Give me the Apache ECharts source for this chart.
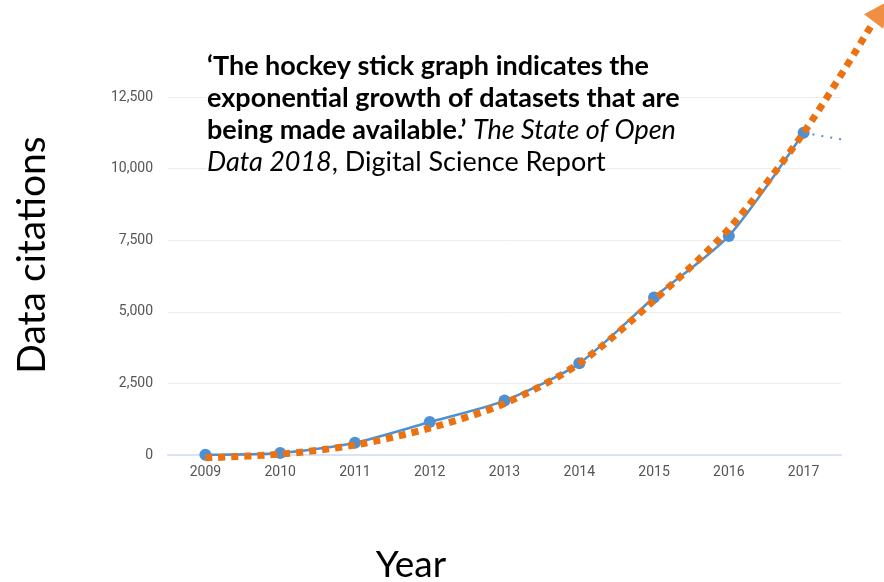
<!DOCTYPE html>
<html>
<head>
<meta charset="utf-8">
<script src="https://cdn.jsdelivr.net/npm/echarts@6/dist/echarts.min.js"></script>
<style>
html,body{margin:0;padding:0;background:#fff;}
#chart{width:884px;height:582px;}
</style>
</head>
<body>
<div id="chart"></div>
<script>
// ---- data ----
const years = ['2009', '2010', '2011', '2012', '2013', '2014', '2015', '2016', '2017'];
const citations = [10, 70, 430, 1150, 1900, 3200, 5500, 7650, 11250];
const extensionX = [2017, 2017.55];
const extensionY = [11250, 11000];
const trendX = [2009, 2010, 2011, 2012, 2013, 2014, 2015, 2016, 2017, 2017.93];
const trendY = [-100, 30, 350, 940, 1800, 3200, 5400, 7900, 11250, 15100];
const arrowTip = [2018.04, 15500];
const yTicks = [0, 2500, 5000, 7500, 10000, 12500];
const quoteLines = [
  [{t: '‘The hockey stick graph indicates the', s: 'b'}],
  [{t: 'exponential growth of datasets that are', s: 'b'}],
  [{t: 'being made available.’ ', s: 'b'}, {t: 'The State of Open', s: 'i'}],
  [{t: 'Data 2018', s: 'i'}, {t: ', Digital Science Report', s: 'n'}]
];
const yTitle = 'Data citations';
const xTitle = 'Year';

// ---- layout ----
const W = 884, H = 582;
const gLeft = 168, gRight = 43, gTop = 97, gBottom = 127;
const plotW = W - gLeft - gRight, plotH = H - gTop - gBottom;
const pxPerYear = plotW / years.length;
const valPerPx = (yTicks[yTicks.length - 1] - yTicks[0]) / plotH;
// overlay grid spanning more of the canvas, same scale as main grid
const oLeft = gLeft, oRight = 0, oTop = 0, oBottom = 110;
const oXMin = 2008.5, oXMax = oXMin + (W - oLeft - oRight) / pxPerYear;
const oYMax = (H - gBottom - oTop) * valPerPx;
const oYMin = -(gBottom - oBottom) * valPerPx;

const chart = echarts.init(document.getElementById('chart'));
const textFont = 'Lato, "Open Sans", sans-serif';
const quoteGraphics = quoteLines.map((parts, i) => ({
  type: 'text',
  left: 207,
  top: 53 + i * 32,
  z: 50,
  style: {
    text: parts.map(p => '{' + p.s + '|' + p.t + '}').join(''),
    backgroundColor: '#fff',
    rich: {
      b: {fontFamily: textFont, fontWeight: 'bold', fontSize: 27, fill: '#000', backgroundColor: '#fff'},
      i: {fontFamily: textFont, fontStyle: 'italic', fontSize: 27, fill: '#000', backgroundColor: '#fff'},
      n: {fontFamily: textFont, fontSize: 27, fill: '#000', backgroundColor: '#fff'}
    }
  }
}));

chart.setOption({
  animation: false,
  grid: [
    {left: gLeft, right: gRight, top: gTop, bottom: gBottom},
    {left: oLeft, right: oRight, top: oTop, bottom: oBottom}
  ],
  xAxis: [{
    type: 'category',
    gridIndex: 0,
    data: years,
    boundaryGap: true,
    axisLine: {show: true, lineStyle: {color: '#dbe2f2', width: 2}},
    axisTick: {show: false},
    axisLabel: {color: '#555', fontSize: 14, fontFamily: 'Roboto', margin: 10}
  }, {
    type: 'value',
    gridIndex: 1,
    min: oXMin,
    max: oXMax,
    show: false
  }],
  yAxis: [{
    type: 'value',
    gridIndex: 0,
    min: yTicks[0],
    max: yTicks[yTicks.length - 1],
    interval: 2500,
    axisLine: {show: false},
    axisTick: {show: false},
    splitLine: {lineStyle: {color: '#ececec', width: 1}},
    axisLabel: {
      color: '#555', fontSize: 14, fontFamily: 'Roboto', margin: 15,
      formatter: v => v.toLocaleString('en-US')
    }
  }, {
    type: 'value',
    gridIndex: 1,
    min: oYMin,
    max: oYMax,
    show: false
  }],
  graphic: [
    ...quoteGraphics,
    {
      type: 'text',
      x: 32,
      y: 255,
      rotation: Math.PI / 2,
      style: {text: yTitle, fontFamily: textFont, fontSize: 39, fill: '#000', align: 'center', verticalAlign: 'middle'}
    },
    {
      type: 'text',
      x: 411,
      y: 565,
      style: {text: xTitle, fontFamily: textFont, fontSize: 37, fill: '#000', align: 'center', verticalAlign: 'middle'}
    }
  ],
  series: [{
    type: 'line',
    data: citations,
    smooth: 0.25,
    symbol: 'circle',
    symbolSize: 12,
    itemStyle: {color: '#4e91d3'},
    lineStyle: {color: '#4e91d3', width: 2.5},
    z: 2
  }, {
    type: 'line',
    xAxisIndex: 1,
    yAxisIndex: 1,
    data: extensionX.map((x, i) => [x, extensionY[i]]),
    symbol: 'none',
    lineStyle: {color: '#4e91d3', width: 2, type: [2, 7]},
    z: 2
  }, {
    type: 'line',
    xAxisIndex: 1,
    yAxisIndex: 1,
    clip: false,
    data: trendX.map((x, i) => [x, trendY[i]]),
    smooth: 0.3,
    symbol: 'none',
    lineStyle: {color: '#ec7211', width: 7, type: [7, 6], cap: 'butt'},
    z: 3
  }, {
    type: 'scatter',
    xAxisIndex: 1,
    yAxisIndex: 1,
    clip: false,
    data: [arrowTip],
    symbol: 'triangle',
    symbolSize: [24, 26],
    symbolRotate: -37,
    itemStyle: {color: '#ec7211'},
    z: 4
  }]
});
</script>
</body>
</html>
